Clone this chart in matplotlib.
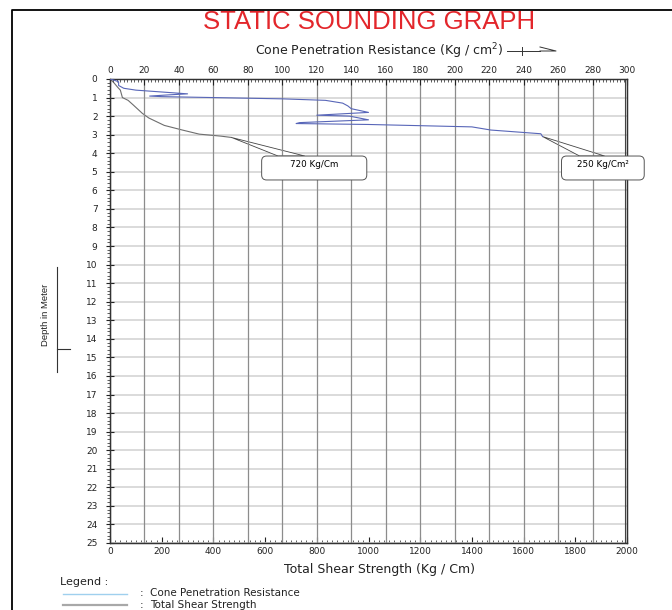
import numpy as np
import matplotlib
matplotlib.use("Agg")
import matplotlib.pyplot as plt
from matplotlib.lines import Line2D
from matplotlib.patches import FancyBboxPatch, Polygon

plt.rcParams['font.family'] = ['DejaVu Sans']

# cone penetration resistance (kg/cm2) vs depth (m)
cpr_depth = [0, 0.05, 0.15, 0.35, 0.5, 0.6, 0.7, 0.8, 0.85, 0.92, 0.95, 1.0, 1.07,
             1.15, 1.3, 1.45, 1.6, 1.8, 1.95, 2.0, 2.2, 2.35, 2.4, 2.45, 2.58, 2.75, 2.95, 3.1]
cpr_value = [0, 2, 5, 5, 8, 15, 30, 45, 35, 23, 30, 60, 100,
             125, 135, 138, 140, 150, 120, 139, 150, 110, 108, 150, 210, 221, 250, 251]

# total shear strength (kg/cm) vs depth (m)
tss_depth = [0, 0.2, 0.45, 0.6, 1.0, 1.15, 1.4, 1.85, 2.1, 2.5, 2.75, 2.97, 3.08, 3.15]
tss_value = [0, 15, 30, 40, 48, 70, 90, 125, 150, 210, 280, 345, 430, 470]

depth_ticks = list(range(0, 26))
cpr_ticks = list(range(0, 301, 20))
tss_ticks = list(range(0, 2001, 200))

W, H = 672, 610
fig = plt.figure(figsize=(W / 100, H / 100), dpi=100)

def fx(px):
    return px / W

def fy(py):
    return 1 - py / H

ax = fig.add_axes([fx(110), fy(543), fx(627) - fx(110), fy(79) - fy(543)])
ax_top = ax.twiny()

# bottom axis: total shear strength
ax.set_xlim(0, 2000)
ax.set_ylim(25, 0)
ax.set_xticks(tss_ticks)
ax.set_xticks(np.arange(0, 2001, 20), minor=True)
ax.set_yticks(depth_ticks)
ax.set_yticks(np.arange(0, 25.01, 0.2), minor=True)
ax.tick_params(axis='x', which='major', direction='in', length=4, labelsize=6.5, pad=3, colors='#222')
ax.tick_params(axis='x', which='minor', direction='in', length=2, color='#444')
ax.tick_params(axis='y', which='major', direction='inout', length=6, labelsize=6.5, pad=6, colors='#222')
ax.tick_params(axis='y', which='minor', direction='out', length=2, color='#444')
ax.grid(axis='y', which='major', color='#d4d4d4', lw=1.2)
ax.plot(tss_value, tss_depth, color='#6e6e6e', lw=0.8, zorder=3)
ax.axvline(1992, color='#444', lw=0.8)

# top axis: cone penetration resistance
ax_top.set_xlim(0, 300)
ax_top.set_xticks(cpr_ticks)
ax_top.set_xticks(np.arange(0, 301, 2), minor=True)
ax_top.tick_params(axis='x', which='major', direction='in', length=4, labelsize=6.5, pad=3, colors='#222')
ax_top.tick_params(axis='x', which='minor', direction='in', length=2.5, color='#444')
ax_top.grid(axis='x', which='major', color='#8c8c8c', lw=0.9)
ax_top.plot(cpr_value, cpr_depth, color='#5866b8', lw=0.8, zorder=3)

for a in (ax, ax_top):
    for s in a.spines.values():
        s.set_color('#333')
        s.set_linewidth(0.9)

# callouts (boxes drawn in pixel space so the corners stay round)
k = 2000 / 300
boxes = [(88, 149, '720 Kg/Cm', (97.5, 113), (tss_value[-1], tss_depth[-1])),
         (262, 310, '250 Kg/Cm\u00b2', (272.5, 287), (cpr_value[-1] * k, cpr_depth[-1]))]
for x0, x1, txt, base, tip in boxes:
    wedge = Polygon([tip, (base[0] * k, 4.15), (base[1] * k, 4.15)], closed=True,
                    fc='white', ec='#444', lw=0.6, zorder=5, clip_on=False)
    ax.add_patch(wedge)
    p0 = ax_top.transData.transform((x0, 5.44))
    p1 = ax_top.transData.transform((x1, 4.15))
    box = FancyBboxPatch((p0[0], p0[1]), p1[0] - p0[0], p1[1] - p0[1],
                         boxstyle='round,pad=0,rounding_size=5', transform=None,
                         fc='white', ec='#555', lw=0.7, zorder=6, clip_on=False)
    fig.add_artist(box)
    pt = ax_top.transData.transform(((x0 + x1) / 2, 4.6))
    fig.text(pt[0] / W, pt[1] / H, txt, ha='center', va='center', fontsize=6.3,
             zorder=7)

# titles and labels
fig.text(fx(369), fy(22), 'STATIC SOUNDING GRAPH', color='#e3262b', fontsize=18.5,
         ha='center', va='center', family='Liberation Sans')
fig.text(fx(379), fy(51), 'Cone Penetration Resistance (Kg / cm$^2$)', fontsize=9,
         ha='center', va='center', color='#222')
fig.text(fx(380), fy(570), 'Total Shear Strength (Kg / Cm)', fontsize=9,
         ha='center', va='center', color='#222')
fig.text(fx(45), fy(315), 'Depth in Meter', fontsize=6.8, rotation=90,
         ha='center', va='center', color='#222', family='Liberation Sans')

tf = fig.transFigure
fig.add_artist(Line2D([fx(507), fx(540)], [fy(51), fy(51)], color='#333', lw=0.7, transform=tf))
fig.add_artist(Line2D([fx(522), fx(522)], [fy(47), fy(55)], color='#333', lw=0.7, transform=tf))
fig.add_artist(Line2D([fx(540), fx(556), fx(540)], [fy(47), fy(51), fy(51)], color='#333', lw=0.7, transform=tf))
fig.add_artist(Line2D([fx(57), fx(57)], [fy(267), fy(372)], color='#333', lw=0.8, transform=tf))
fig.add_artist(Line2D([fx(57), fx(70)], [fy(349), fy(349)], color='#333', lw=0.8, transform=tf))

# legend
fig.text(fx(60), fy(582), 'Legend :', fontsize=8, va='center', color='#222')
fig.add_artist(Line2D([fx(63), fx(127)], [fy(594), fy(594)], color='#9fd0ee', lw=1.0, transform=tf))
fig.add_artist(Line2D([fx(63), fx(127)], [fy(605), fy(605)], color='#a8a8a8', lw=1.6, transform=tf))
for yy, lab in [(593, 'Cone Penetration Resistance'), (605, 'Total Shear Strength')]:
    fig.text(fx(140), fy(yy), ':', fontsize=7.5, va='center', color='#222')
    fig.text(fx(150), fy(yy), lab, fontsize=7.5, va='center', color='#222')

# page border
fig.add_artist(Line2D([fx(12), fx(12), fx(672)], [fy(610), fy(10), fy(10)], color='black', lw=1.3, transform=tf))

fig.savefig('out.png', dpi=100)
